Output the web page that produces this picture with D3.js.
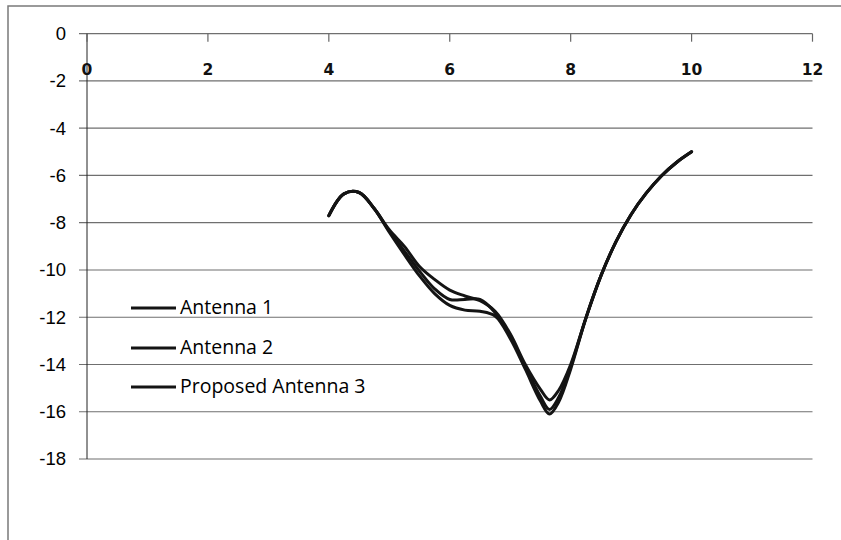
<!DOCTYPE html>
<html>
<head>
<meta charset="utf-8">
<script src="https://cdn.jsdelivr.net/npm/d3@7"></script>
<style>
  html, body { margin: 0; padding: 0; background: #fff; }
  svg { display: block; }
</style>
</head>
<body>
<div id="app"></div>
<script>
// x values shared by all three series
const xValues = [4, 4.25, 4.5, 4.75, 5, 5.25, 5.5, 5.75, 6, 6.25, 6.5, 6.75, 7, 7.25, 7.5, 7.65, 7.8, 8, 8.25, 8.5, 8.75, 9, 9.25, 9.5, 9.75, 10];

const antenna1 = [-7.7, -6.78, -6.72, -7.4, -8.35, -9.2, -10.05, -10.8, -11.25, -11.25, -11.25, -11.8, -12.8, -14.1, -15.35, -15.9, -15.4, -14.1, -12.05, -10.25, -8.8, -7.65, -6.75, -6.02, -5.45, -5.0];
const antenna2 = [-7.7, -6.78, -6.72, -7.4, -8.4, -9.35, -10.25, -11.0, -11.5, -11.7, -11.75, -11.95, -12.9, -14.2, -15.55, -16.1, -15.6, -14.2, -12.05, -10.25, -8.8, -7.65, -6.75, -6.02, -5.45, -5.0];
const antenna3 = [-7.7, -6.78, -6.72, -7.4, -8.3, -9.0, -9.85, -10.4, -10.85, -11.1, -11.3, -11.75, -12.7, -14.0, -15.05, -15.5, -15.1, -14.0, -12.05, -10.25, -8.8, -7.65, -6.75, -6.02, -5.45, -5.0];

const seriesNames = ["Antenna 1", "Antenna 2", "Proposed Antenna 3"];
const xTicks = [0, 2, 4, 6, 8, 10, 12];
const yTicks = [0, -2, -4, -6, -8, -10, -12, -14, -16, -18];

const width = 841, height = 540;
const svg = d3.select("#app").append("svg").attr("width", width).attr("height", height);

// outer chart border (only top and left visible in frame)
svg.append("rect")
  .attr("x", 8).attr("y", 6).attr("width", 900).attr("height", 600)
  .attr("fill", "none").attr("stroke", "#7a7a7a").attr("stroke-width", 1.5);

const x = d3.scaleLinear().domain([0, 12]).range([87, 812.5]);
const y = d3.scaleLinear().domain([-18, 0]).range([459, 33.7]);

// horizontal gridlines
svg.append("g")
  .selectAll("line")
  .data(yTicks)
  .join("line")
  .attr("x1", x(0) - 8).attr("x2", x(12))
  .attr("y1", d => y(d)).attr("y2", d => y(d))
  .attr("stroke", "#6f6f6f").attr("stroke-width", 1.2);

// y labels
svg.append("g")
  .selectAll("text")
  .data(yTicks)
  .join("text")
  .attr("x", 66)
  .attr("y", d => y(d) + 1.5)
  .attr("text-anchor", "end")
  .attr("dominant-baseline", "middle")
  .attr("font-family", "Liberation Sans, Arial, sans-serif")
  .attr("font-size", 18.5)
  .attr("fill", "#000")
  .text(d => d);

// vertical axis line
svg.append("line")
  .attr("x1", x(0)).attr("x2", x(0))
  .attr("y1", y(0)).attr("y2", y(-18))
  .attr("stroke", "#222").attr("stroke-width", 1);

// x axis sits on y = 0 with ticks pointing down
svg.append("g")
  .selectAll("line")
  .data(xTicks)
  .join("line")
  .attr("x1", d => x(d)).attr("x2", d => x(d))
  .attr("y1", y(0)).attr("y2", y(0) + 8)
  .attr("stroke", "#666").attr("stroke-width", 1.2);

svg.append("g")
  .selectAll("text")
  .data(xTicks)
  .join("text")
  .attr("x", d => x(d))
  .attr("y", 75)
  .attr("text-anchor", "middle")
  .attr("font-family", "DejaVu Sans, Verdana, sans-serif")
  .attr("font-size", 15.5)
  .attr("font-weight", 600)
  .attr("fill", "#111")
  .text(d => d);

// series
const line = d3.line()
  .x((d, i) => x(xValues[i]))
  .y(d => y(d))
  .curve(d3.curveCatmullRom.alpha(0.5));

[antenna1, antenna2, antenna3].forEach(s => {
  svg.append("path")
    .attr("d", line(s))
    .attr("fill", "none")
    .attr("stroke", "#141414")
    .attr("stroke-width", 3)
    .attr("stroke-linecap", "round");
});

// legend
const legendY = [308, 348, 387];
const legend = svg.append("g")
  .selectAll("g")
  .data(seriesNames)
  .join("g")
  .attr("transform", (d, i) => `translate(131, ${legendY[i]})`);

legend.append("line")
  .attr("x1", 0).attr("x2", 45)
  .attr("stroke", "#141414").attr("stroke-width", 3);

legend.append("text")
  .attr("x", 49)
  .attr("y", 1)
  .attr("dominant-baseline", "middle")
  .attr("font-family", "Open Sans, sans-serif")
  .attr("font-size", 19.5)
  .attr("fill", "#000")
  .text(d => d);
</script>
</body>
</html>
